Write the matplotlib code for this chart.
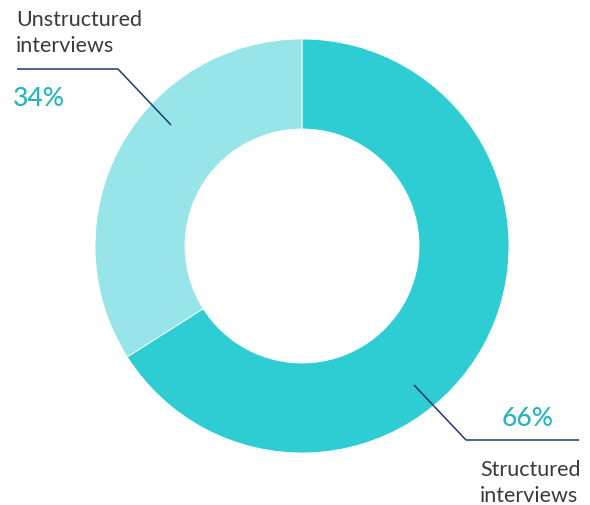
import matplotlib
matplotlib.use("Agg")
import matplotlib.pyplot as plt

categories = ["Structured\ninterviews", "Unstructured\ninterviews"]
values = [66, 34]
pct_labels = ["66%", "34%"]
colors = ["#2ECDD4", "#97E5E9"]

W, H = 590, 506
fig = plt.figure(figsize=(W / 100, H / 100), dpi=100)
ax = fig.add_axes([0, 0, 1, 1])
ax.set_xlim(0, W)
ax.set_ylim(0, H)
ax.set_aspect("equal")
ax.axis("off")

def Y(py):
    return H - py

cx, cy, R = 302, Y(247), 207
ax.pie(values, colors=colors, startangle=90, counterclock=False,
       center=(cx, cy), radius=R,
       wedgeprops=dict(width=90, edgecolor="white", linewidth=0.6))
ax.set_xlim(0, W)
ax.set_ylim(0, H)

line_color = "#1F3A6E"
ax.plot([17, 118, 171], [Y(70), Y(70), Y(126)], color=line_color, lw=1.1,
        solid_capstyle="butt")
ax.plot([414, 466, 579], [Y(386), Y(441), Y(441)], color=line_color, lw=1.1,
        solid_capstyle="butt")

label_font = dict(family=["Lato", "DejaVu Sans"], fontsize=15.5, color="#3A3A3A",
                  fontweight="normal", linespacing=1.38)
pct_font = dict(family=["Lato", "DejaVu Sans"], fontsize=19, color="#25B6BC",
                fontweight="medium")

ax.text(16, Y(52), categories[1], ha="left", va="baseline", **label_font)
ax.text(13, Y(106), pct_labels[1], ha="left", va="baseline", **pct_font)

ax.text(480, Y(502), categories[0], ha="left", va="baseline", **label_font)
ax.text(502, Y(426), pct_labels[0], ha="left", va="baseline", **pct_font)

fig.savefig("out.png", dpi=100)
